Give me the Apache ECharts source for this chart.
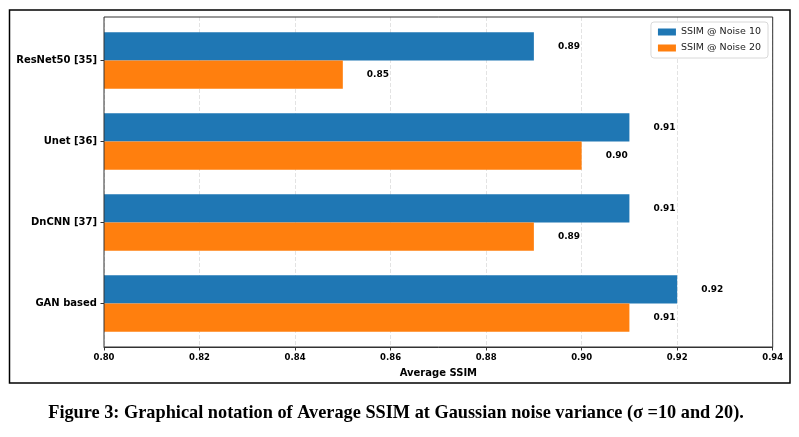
<!DOCTYPE html>
<html><head><meta charset="utf-8">
<script src="https://cdn.jsdelivr.net/npm/echarts@6/dist/echarts.min.js"></script>
<style>html,body{margin:0;padding:0;background:#fff}#c{width:799px;height:437px}</style>
</head><body><div id="c"></div>
<script>
const categories = ['ResNet50 [35]', 'Unet [36]', 'DnCNN [37]', 'GAN based'];
const noise10 = [0.89, 0.91, 0.91, 0.92];
const noise20 = [0.85, 0.90, 0.89, 0.91];
const seriesNames = ['SSIM @ Noise 10', 'SSIM @ Noise 20'];
const xMin = 0.80, xMax = 0.94, xStep = 0.02;

const chart = echarts.init(document.getElementById('c'), null, {renderer: 'canvas'});
const F = 'DejaVu Sans';
const plotL = 104, plotT = 17, plotW = 668.7, plotH = 330;
const lbl = {
  show: true, position: 'right', distance: 24, fontFamily: F, fontWeight: 'bold',
  fontSize: 9, color: '#000', formatter: p => p.value.toFixed(2)
};
chart.setOption({
  animation: false,
  textStyle: {fontFamily: F},
  grid: [
    {left: plotL, top: plotT + 3, width: plotW, height: plotH - 6, show: false},
    {left: plotL, top: plotT, width: plotW, height: plotH, show: false}
  ],
  legend: {
    data: seriesNames, orient: 'vertical', right: 31, top: 22,
    itemWidth: 18, itemHeight: 7, itemGap: 6, icon: 'rect',
    padding: [5, 7, 5, 7], backgroundColor: '#fff', borderColor: '#d8d8d8', borderWidth: 1, borderRadius: 3,
    textStyle: {fontFamily: F, fontSize: 9.5, color: '#222'}
  },
  xAxis: [
    {gridIndex: 0, type: 'value', min: xMin, max: xMax, interval: xStep, show: false},
    {gridIndex: 1, type: 'value', min: xMin, max: xMax, interval: xStep,
     name: 'Average SSIM', nameLocation: 'middle', nameGap: 21,
     nameTextStyle: {fontFamily: F, fontWeight: 'bold', fontSize: 10, color: '#000'},
     axisLine: {show: true, lineStyle: {color: '#333', width: 1}},
     axisTick: {show: true, length: 3.5, lineStyle: {color: '#333'}},
     axisLabel: {fontFamily: F, fontWeight: 'bold', fontSize: 8.5, color: '#000', margin: 6, formatter: v => v.toFixed(2)},
     splitLine: {show: true, lineStyle: {color: '#dcdcdc', type: [4, 2], width: 0.8}}}
  ],
  yAxis: [
    {gridIndex: 0, type: 'category', data: categories, inverse: true,
     axisLine: {show: false},
     axisTick: {show: true, alignWithLabel: true, length: 3.5, lineStyle: {color: '#333'}},
     axisLabel: {fontFamily: F, fontWeight: 'bold', fontSize: 10, color: '#000', margin: 7},
     splitLine: {show: false}},
    {gridIndex: 1, type: 'value', show: false, min: 0, max: 1, splitLine: {show: false}}
  ],
  series: [
    {name: seriesNames[0], type: 'bar', xAxisIndex: 0, yAxisIndex: 0, data: noise10,
     barWidth: 28.3, barGap: '0%', itemStyle: {color: '#1f77b4'}, label: lbl},
    {name: seriesNames[1], type: 'bar', xAxisIndex: 0, yAxisIndex: 0, data: noise20,
     barWidth: 28.3, barGap: '0%', itemStyle: {color: '#ff7f0e'}, label: lbl}
  ],
  graphic: [
    {type: 'rect', z: 100, shape: {x: plotL, y: plotT, width: plotW, height: plotH}, style: {fill: 'none', stroke: '#333', lineWidth: 1}, silent: true},
    {type: 'rect', shape: {x: 9.5, y: 10, width: 780.5, height: 373}, style: {fill: 'none', stroke: '#000', lineWidth: 1.5}, silent: true},
    {type: 'text', x: 396, y: 413, style: {text: 'Figure 3: Graphical notation of Average SSIM at Gaussian noise variance (σ =10 and 20).',
      font: 'bold 18.3px "Liberation Serif"', fill: '#000', align: 'center', verticalAlign: 'middle'}}
  ]
});
</script></body></html>
